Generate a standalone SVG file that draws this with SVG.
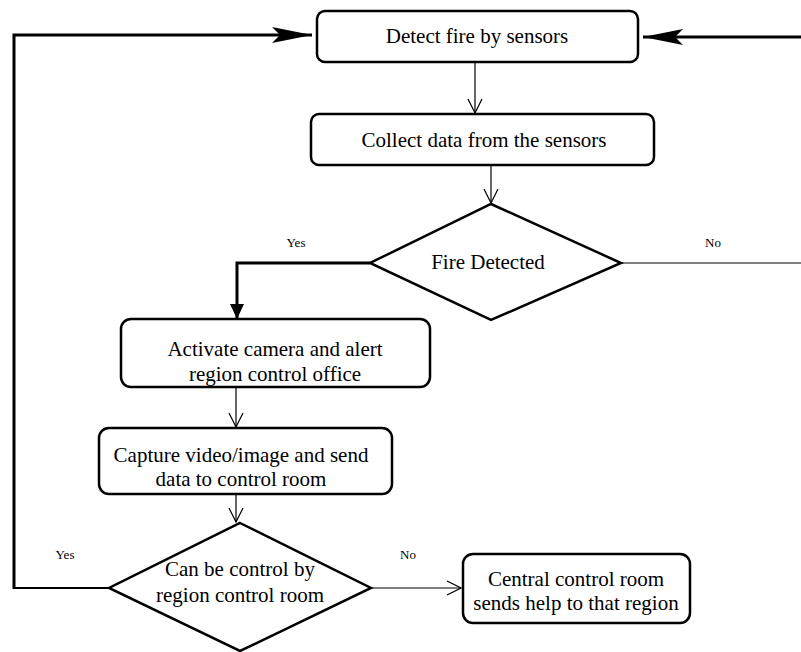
<svg xmlns="http://www.w3.org/2000/svg" width="801" height="652" viewBox="0 0 801 652">
<defs>
<marker id="open" viewBox="0 0 16 16" refX="15" refY="8" markerWidth="16" markerHeight="16" markerUnits="userSpaceOnUse" orient="auto">
<path d="M1,1 L15,8 L1,15" fill="none" stroke="#000" stroke-width="1.2"/>
</marker>
<marker id="filled" viewBox="0 0 40 16" refX="40" refY="8" markerWidth="40" markerHeight="16" markerUnits="userSpaceOnUse" orient="auto">
<path d="M0,0 L40,8 L0,16 L8,8 Z" fill="#000"/>
</marker>
<marker id="filledS" viewBox="0 0 16 16" refX="15" refY="8" markerWidth="16" markerHeight="16" markerUnits="userSpaceOnUse" orient="auto">
<path d="M0,1 L15,8 L0,15 Z" fill="#000"/>
</marker>
</defs>
<style>
text{font-family:'Liberation Serif','Times New Roman',Times,serif}
.box{fill:#fff;stroke:#000;stroke-width:2.5}
.dia{fill:#fff;stroke:#000;stroke-width:2.5}
.t{font-size:21px;fill:#000;text-anchor:middle}
.s{font-size:13px;fill:#000;text-anchor:middle}
.thin{fill:none;stroke:#000;stroke-width:1.2}
.thick{fill:none;stroke:#000;stroke-width:3}
</style>
<g id="connectors">
<line class="thin" x1="475" y1="62" x2="475" y2="113" marker-end="url(#open)"/>
<line class="thin" x1="491" y1="165" x2="491" y2="203" marker-end="url(#open)"/>
<polyline class="thick" points="370,263 237,263 237,319" marker-end="url(#filledS)"/>
<line class="thin" x1="621" y1="263" x2="801" y2="263"/>
<line class="thin" x1="236" y1="388" x2="236" y2="427" marker-end="url(#open)"/>
<line class="thin" x1="236" y1="494" x2="236" y2="522" marker-end="url(#open)"/>
<polyline class="thin" points="109,588 14,588" style="stroke-width:1.8"/>
<polyline class="thick" points="14,589 14,35 312,35" marker-end="url(#filled)"/>
<line class="thick" x1="801" y1="37" x2="643" y2="37" marker-end="url(#filled)"/>
<line class="thin" x1="371" y1="588" x2="461" y2="588" marker-end="url(#open)"/>
<text class="s" x="296" y="247">Yes</text>
<text class="s" x="713" y="247">No</text>
<text class="s" x="65" y="559">Yes</text>
<text class="s" x="408" y="559">No</text>
</g>
<g id="n1">
<rect class="box" x="317" y="11" width="321" height="51" rx="8"/>
<text class="t" x="477" y="43">Detect fire by sensors</text>
</g>
<g id="n2">
<rect class="box" x="311" y="114" width="343" height="51" rx="8"/>
<text class="t" x="484" y="147">Collect data from the sensors</text>
</g>
<g id="n3">
<polygon class="dia" points="491,204 621,263 491,320 370,263"/>
<text class="t" x="488" y="269">Fire Detected</text>
</g>
<g id="n4">
<rect class="box" x="121" y="319" width="309" height="68" rx="10"/>
<text class="t" x="275" y="356">Activate camera and alert</text>
<text class="t" x="275" y="381">region control office</text>
</g>
<g id="n5">
<rect class="box" x="99" y="428" width="293" height="66" rx="10"/>
<text class="t" x="241" y="462">Capture video/image and send</text>
<text class="t" x="241" y="486">data to control room</text>
</g>
<g id="n6">
<polygon class="dia" points="240,523 371,588 240,651 109,588"/>
<text class="t" x="240" y="576">Can be control by</text>
<text class="t" x="240" y="602">region control room</text>
</g>
<g id="n7">
<rect class="box" x="463" y="554" width="227" height="69" rx="10"/>
<text class="t" x="576" y="586">Central control room</text>
<text class="t" x="576" y="610">sends help to that region</text>
</g>
</svg>
